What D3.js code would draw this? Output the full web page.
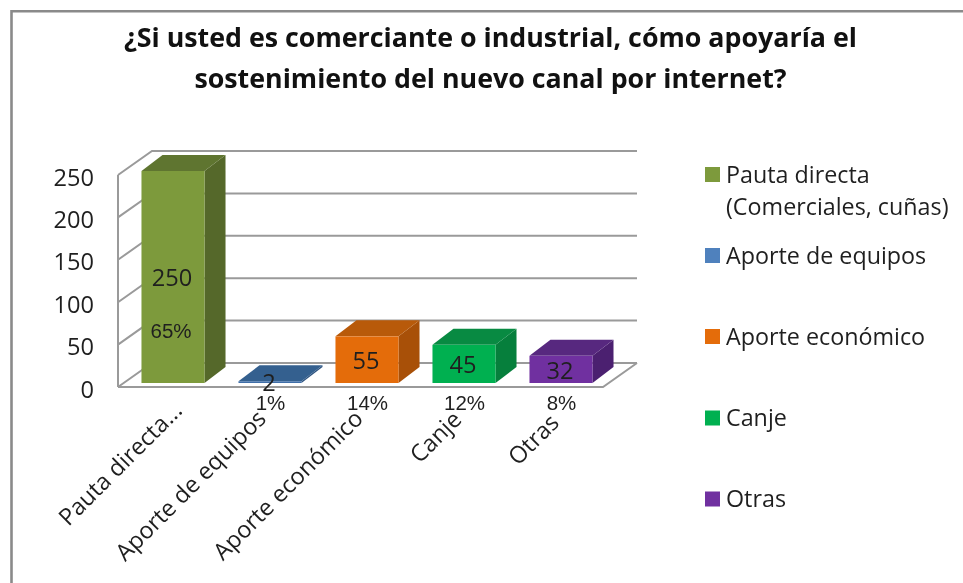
<!DOCTYPE html>
<meta charset="utf-8">
<script src="https://d3js.org/d3.v7.min.js"></script>
<style>
  * {margin: 0; padding: 0;}
  body {background: #fff;}
  svg {display: block; filter: blur(0.4px);}
  text {font-family: "Open Sans", "Noto Sans", sans-serif; fill: #1f1f1f;}
</style>
<body>
<div id="chart"></div>
<script>
var categories = ["Pauta directa...", "Aporte de equipos", "Aporte económico", "Canje", "Otras"];
var values = [250, 2, 55, 45, 32];
var percents = ["65%", "1%", "14%", "12%", "8%"];
var colors = ["#7d9a3c", "#3f6ea8", "#e46c0a", "#00b050", "#7030a0"];
var sideColors = ["#55682a", "#2f5480", "#a85008", "#067f3c", "#4b2070"];
var topColors = ["#5f7530", "#34608f", "#b85a0a", "#088a42", "#57287f"];
var yTicks = [0, 50, 100, 150, 200, 250];
var legendLines = [["Pauta directa", "(Comerciales, cuñas)"], ["Aporte de equipos"], ["Aporte económico"], ["Canje"], ["Otras"]];
var titleLines = ["¿Si usted es comerciante o industrial, cómo apoyaría el", "sostenimiento del nuevo canal por internet?"];

var width = 963, height = 583;
var wallDx = 34, wallDy = -24;   // depth of the chart box
var barDx = 21, barDy = -16;     // depth of a bar
var barOffX = 6.5, barOffY = -4; // bars sit a bit inside the box

var svg = d3.select("#chart").append("svg").attr("width", width).attr("height", height);

// outer frame, only top and left show in the picture
svg.append("path")
  .attr("d", "M11.5,583V11.3H963")
  .attr("fill", "none")
  .attr("stroke", "#8a8a8a")
  .attr("stroke-width", 2.6);

svg.selectAll(".title").data(titleLines).enter().append("text")
  .attr("class", "title")
  .attr("x", 490.5)
  .attr("y", function(d, i) { return 47 + i * 40.5; })
  .attr("text-anchor", "middle")
  .style("font-size", "26.8px")
  .style("font-weight", 700)
  .style("fill", "#111")
  .text(function(d) { return d; });

var x = d3.scaleBand().domain(categories).range([118, 603]).paddingInner(0.35).paddingOuter(0.175);
var y = d3.scaleLinear().domain([0, 250]).range([387, 175]);

// side wall and back wall lines
var wallColor = "#9a9a9a";
var grid = svg.append("g").attr("fill", "none").attr("stroke", wallColor).attr("stroke-width", 2);
yTicks.forEach(function(t) {
  grid.append("path").attr("d", d3.line()([
    [x.range()[0], y(t)],
    [x.range()[0] + wallDx, y(t) + wallDy],
    [x.range()[1] + wallDx, y(t) + wallDy]
  ]));
});
grid.append("path").attr("d", d3.line()([[x.range()[0], y(0)], [x.range()[0], y(250)]]));
grid.append("path").attr("d", d3.line()([
  [x.range()[0], y(0)],
  [x.range()[1], y(0)],
  [x.range()[1] + wallDx, y(0) + wallDy]
]));

// y axis labels
svg.selectAll(".ylab").data(yTicks).enter().append("text")
  .attr("class", "ylab")
  .attr("x", 94)
  .attr("y", function(d) { return y(d) + 10.5; })
  .attr("text-anchor", "end")
  .style("font-size", "23.6px")
  .text(function(d) { return d; });

// bars: front, top, side
var bars = svg.selectAll(".bar").data(categories).enter().append("g").attr("class", "bar");
function corners(i) {
  var x0 = x(categories[i]) + barOffX, x1 = x0 + x.bandwidth();
  return {x0: x0, x1: x1, y0: y(0) + barOffY, y1: y(values[i]) + barOffY};
}
bars.append("path").attr("fill", function(d, i) { return sideColors[i]; })
  .attr("d", function(d, i) {
    var c = corners(i);
    return d3.line()([[c.x1, c.y0], [c.x1 + barDx, c.y0 + barDy], [c.x1 + barDx, c.y1 + barDy], [c.x1, c.y1]]) + "Z";
  });
bars.append("path").attr("fill", function(d, i) { return topColors[i]; })
  .attr("d", function(d, i) {
    var c = corners(i);
    return d3.line()([[c.x0, c.y1], [c.x0 + barDx, c.y1 + barDy], [c.x1 + barDx, c.y1 + barDy], [c.x1, c.y1]]) + "Z";
  });
bars.append("rect").attr("fill", function(d, i) { return colors[i]; })
  .attr("x", function(d, i) { return corners(i).x0; })
  .attr("y", function(d, i) { return corners(i).y1; })
  .attr("width", x.bandwidth())
  .attr("height", function(d, i) { var c = corners(i); return c.y0 - c.y1; });

// value labels in the middle of the front face
svg.selectAll(".val").data(values).enter().append("text")
  .attr("class", "val")
  .attr("x", function(d, i) { return (corners(i).x0 + corners(i).x1) / 2 - 1; })
  .attr("y", function(d, i) { return i == 1 ? 391 : (y(d) + y(0)) / 2 + 5.4; })
  .attr("text-anchor", "middle")
  .style("font-size", "23.6px")
  .text(function(d) { return d; });

// percent labels, the first one sits inside the bar
svg.selectAll(".pct").data(percents).enter().append("text")
  .attr("class", "pct")
  .attr("x", function(d, i) { return (corners(i).x0 + corners(i).x1) / 2 - (i == 0 ? 2 : -0.5); })
  .attr("y", function(d, i) { return i == 0 ? 338 : 410; })
  .attr("text-anchor", "middle")
  .style("font-family", "'Liberation Sans', Arial, sans-serif")
  .style("font-size", "20.5px")
  .text(function(d) { return d; });

// category labels at 45 degrees, the anchor differs a bit per label like in the picture
var catShiftX = [17, 4, 4, 5.5, 6];
var catShiftY = [412, 420, 420, 421, 424];
svg.selectAll(".cat").data(categories).enter().append("text")
  .attr("class", "cat")
  .attr("text-anchor", "end")
  .attr("transform", function(d, i) {
    return "translate(" + (x(d) + x.bandwidth() / 2 + catShiftX[i]) + "," + catShiftY[i] + ") rotate(-45)";
  })
  .style("font-size", "23.4px")
  .text(function(d) { return d; });

// legend
var legendY = [174.5, 255.5, 336.5, 418, 499];
var legend = svg.selectAll(".leg").data(legendLines).enter().append("g").attr("class", "leg");
legend.append("rect")
  .attr("x", 705)
  .attr("y", function(d, i) { return legendY[i] - 7.5; })
  .attr("width", 15)
  .attr("height", 15)
  .attr("fill", function(d, i) { return i == 1 ? "#4f81bd" : colors[i]; });
legend.selectAll("text").data(function(d, i) { return d.map(function(s) { return {s: s, i: i}; }); })
  .enter().append("text")
  .attr("x", 726)
  .attr("y", function(d, j) { return legendY[d.i] + 8 + j * 32.5; })
  .style("font-size", "23.3px")
  .text(function(d) { return d.s; });
</script>
</body>
